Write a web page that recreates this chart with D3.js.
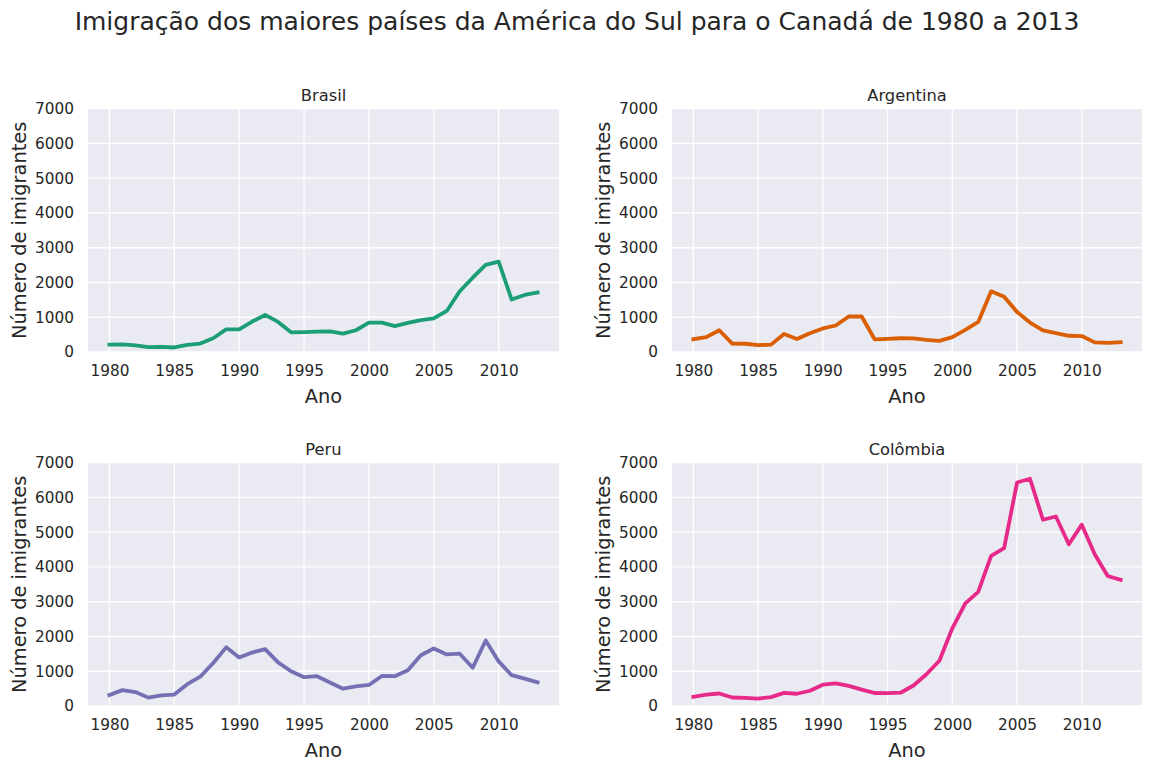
<!DOCTYPE html>
<html><head><meta charset="utf-8">
<script src="https://cdn.jsdelivr.net/npm/d3@7"></script>
<style>body{margin:0;background:#fff;}svg{display:block;font-family:"DejaVu Sans",sans-serif;}</style>
</head><body><svg id="chart" width="1153" height="770"></svg>
<script>
const years = d3.range(1980, 2014);
const brasil = [211,220,192,139,145,130,205,244,394,650,650,877,1066,866,566,572,586,591,531,626,845,847,745,839,917,969,1181,1746,2138,2509,2598,1508,1642,1714];
const argentina = [368,426,626,241,237,196,213,519,374,538,678,763,1023,1022,366,380,396,391,349,318,427,635,865,1745,1591,1153,847,620,540,467,459,278,263,282];
const peru = [317,456,401,241,306,328,628,843,1237,1687,1398,1538,1635,1256,1001,829,858,678,497,567,605,863,858,1031,1459,1654,1484,1504,1100,1885,1283,886,787,682];
const colombia = [266,326,360,244,235,214,257,376,352,439,614,652,581,472,374,373,382,589,912,1301,2235,2953,3284,4321,4543,6430,6537,5359,5452,4652,5218,4366,3741,3631];
const countries = ["Brasil","Argentina","Peru","Colômbia"];
const seriesList = [brasil, argentina, peru, colombia];
const colors = ["#1b9e77","#d95f02","#7570b3","#e7298a"];
const xTicks = [1980,1985,1990,1995,2000,2005,2010];
const yTicks = [0,1000,2000,3000,4000,5000,6000,7000];
const chartTitle = "Imigração dos maiores países da América do Sul para o Canadá de 1980 a 2013";

const svg = d3.select("#chart");
svg.append("text").attr("x",577).attr("y",30).attr("text-anchor","middle")
  .attr("font-size",25).attr("fill","#262626").text(chartTitle);

const panels = [
  {x0:88, x1:559, y0:108.7, y1:352},
  {x0:672, x1:1142, y0:108.7, y1:352},
  {x0:88, x1:559, y0:462.7, y1:706},
  {x0:672, x1:1142, y0:462.7, y1:706}
];

panels.forEach((p,i)=>{
  const x = d3.scaleLinear().domain([1980-1.65, 2013+1.65]).range([p.x0,p.x1]);
  const y = d3.scaleLinear().domain([0,7000]).range([p.y1,p.y0]);
  const g = svg.append("g");
  g.append("rect").attr("x",p.x0).attr("y",p.y0).attr("width",p.x1-p.x0).attr("height",p.y1-p.y0).attr("fill","#eaeaf2");
  g.selectAll(".vg").data(xTicks).join("line").attr("x1",d=>x(d)).attr("x2",d=>x(d)).attr("y1",p.y0).attr("y2",p.y1)
    .attr("stroke","#fff").attr("stroke-width",1.3);
  g.selectAll(".hg").data(yTicks).join("line").attr("x1",p.x0).attr("x2",p.x1).attr("y1",d=>y(d)).attr("y2",d=>y(d))
    .attr("stroke","#fff").attr("stroke-width",1.3);
  const xa = g.append("g").attr("transform",`translate(0,${p.y1})`)
    .call(d3.axisBottom(x).tickValues(xTicks).tickFormat(d3.format("d")).tickSize(0).tickPadding(13));
  const ya = g.append("g").attr("transform",`translate(${p.x0},0)`)
    .call(d3.axisLeft(y).tickValues(yTicks).tickFormat(d3.format("d")).tickSize(0).tickPadding(14));
  [xa,ya].forEach(a=>{a.select(".domain").remove();a.selectAll("text").attr("font-size",15.3).attr("fill","#262626").attr("font-family","DejaVu Sans");});
  const line = d3.line().x((d,j)=>x(years[j])).y(d=>y(d));
  g.append("path").datum(seriesList[i]).attr("d",line).attr("fill","none").attr("stroke",colors[i])
    .attr("stroke-width",3.8).attr("stroke-linejoin","round").attr("stroke-linecap","square");
  g.append("text").attr("x",(p.x0+p.x1)/2).attr("y",p.y0-8).attr("text-anchor","middle").attr("font-size",16.3).attr("fill","#262626").text(countries[i]);
  g.append("text").attr("x",(p.x0+p.x1)/2).attr("y",p.y1+51).attr("text-anchor","middle").attr("font-size",19.4).attr("fill","#262626").text("Ano");
  g.append("text").attr("transform",`translate(${p.x0-69},${(p.y0+p.y1)/2}) rotate(-90)`).attr("text-anchor","middle")
    .attr("dy","0.35em").attr("font-size",19.4).attr("fill","#262626").text("Número de imigrantes");
});
</script></body></html>
